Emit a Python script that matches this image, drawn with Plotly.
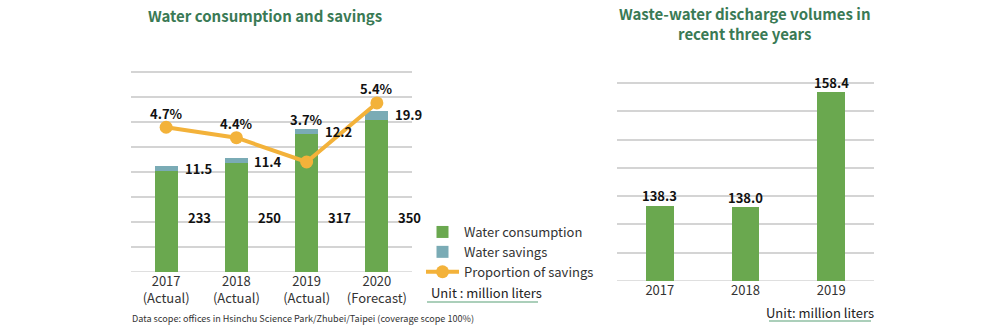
import plotly.graph_objects as go

# ---- data ----
years_left = ["2017<br>(Actual)", "2018<br>(Actual)", "2019<br>(Actual)", "2020<br>(Forecast)"]
consumption = [233, 250, 317, 350]
savings = [11.5, 11.4, 12.2, 19.9]
saving_pct = [4.7, 4.4, 3.7, 5.4]

years_right = ["2017", "2018", "2019"]
discharge = [138.3, 138.0, 158.4]

# ---- styling ----
FONT = "Noto Sans CJK TC, Noto Sans, sans-serif"
GREEN = "#6aa84f"
TEAL = "#7aabb5"
ORANGE = "#f3b23a"
TITLE_GREEN = "#3a7a55"
GRID = "#d4d4d4"
TXT = "#333333"

W, H = 1000, 328


def py(pix):
    """vertical pixel -> paper fraction"""
    return 1 - pix / H


Y1_MAX = 464.6
P_RANGE = [0.53, 6.35]
Y3_RANGE = [125, 160.18]

# right chart uses numeric positions with year tick labels
right_pos = list(range(len(years_right)))

fig = go.Figure()

fig.add_trace(go.Bar(
    x=years_left, y=consumption, name="Water consumption",
    marker=dict(color=GREEN, line=dict(width=0)), width=0.33,
    xaxis="x", yaxis="y", hoverinfo="x+y",
))
fig.add_trace(go.Bar(
    x=years_left, y=savings, name="Water savings",
    marker=dict(color=TEAL, line=dict(width=0)), width=0.33,
    xaxis="x", yaxis="y", hoverinfo="x+y",
))
fig.add_trace(go.Scatter(
    x=years_left, y=saving_pct, name="Proportion of savings",
    mode="lines+markers",
    line=dict(color=ORANGE, width=4),
    marker=dict(color=ORANGE, size=13),
    xaxis="x", yaxis="y2", hoverinfo="x+y",
))
fig.add_trace(go.Bar(
    x=right_pos, y=discharge, name="Waste-water discharge",
    marker=dict(color=GREEN, line=dict(width=0)), width=0.32,
    xaxis="x3", yaxis="y3", showlegend=False, hoverinfo="y",
))

annotations = []
lab_font = dict(family=FONT, size=13, color="#111111")


def note(**kw):
    kw.setdefault("showarrow", False)
    kw.setdefault("xanchor", "center")
    kw.setdefault("yanchor", "middle")
    annotations.append(kw)


for i, yr in enumerate(years_left):
    total = consumption[i] + savings[i]
    bar_frac = total / Y1_MAX
    pt_frac = (saving_pct[i] - P_RANGE[0]) / (P_RANGE[1] - P_RANGE[0])
    # percentage sits above whichever mark is higher
    if bar_frac > pt_frac:
        note(x=yr, y=total, xref="x", yref="y", text=f"<b>{saving_pct[i]}%</b>",
             yshift=9, font=lab_font)
    else:
        note(x=yr, y=saving_pct[i], xref="x", yref="y2", text=f"<b>{saving_pct[i]}%</b>",
             yshift=14, font=lab_font)
    # savings value beside the stack top
    note(x=yr, y=total, xref="x", yref="y", text=f"<b>{savings[i]}</b>",
         xshift=32, yshift=-3, font=lab_font)
    # consumption value on a common row
    note(x=yr, y=py(217), xref="x", yref="paper", text=f"<b>{consumption[i]}</b>",
         xshift=33, font=lab_font)

for i, pos in enumerate(right_pos):
    note(x=pos, y=discharge[i], xref="x3", yref="y3", text=f"<b>{discharge[i]:.1f}</b>",
         yshift=10, font=lab_font)

# titles
note(x=0.265, y=py(15), xref="paper", yref="paper",
     text="<b>Water consumption and savings</b>",
     font=dict(family=FONT, size=15, color=TITLE_GREEN))
note(x=0.745, y=py(24), xref="paper", yref="paper",
     text="<b>Waste-water discharge volumes in<br>recent three years</b>",
     font=dict(family=FONT, size=15, color=TITLE_GREEN))

# unit notes and footnote
note(x=0.4865, y=py(292), xref="paper", yref="paper", text="Unit : million liters",
     font=dict(family=FONT, size=13, color="#222222"))
note(x=0.8195, y=py(312), xref="paper", yref="paper", text="Unit: million liters",
     font=dict(family=FONT, size=13, color="#222222"))
note(x=0.13, y=py(318), xref="paper", yref="paper", xanchor="left",
     text="Data scope: offices in Hsinchu Science Park/Zhubei/Taipei (coverage scope 100%)",
     font=dict(family=FONT, size=9.1, color=TXT))

shapes = [
    dict(type="line", xref="paper", yref="paper", x0=0.427, x1=0.538,
         y0=py(302), y1=py(302), line=dict(color="#8fbfa3", width=1.5)),
    dict(type="line", xref="paper", yref="paper", x0=0.769, x1=0.871,
         y0=py(321), y1=py(321), line=dict(color="#8fbfa3", width=1.5)),
    # baseline rules along the bottom of both plots
    dict(type="line", xref="x domain", yref="y", x0=0, x1=1, y0=0, y1=0,
         line=dict(color=GRID, width=1.5), layer="below"),
    dict(type="line", xref="x3 domain", yref="y3", x0=0, x1=1,
         y0=Y3_RANGE[0], y1=Y3_RANGE[0], line=dict(color=GRID, width=1.5), layer="below"),
]

fig.update_layout(
    width=W, height=H,
    margin=dict(l=0, r=0, t=0, b=0),
    paper_bgcolor="white", plot_bgcolor="white",
    barmode="stack", bargap=0.5,
    font=dict(family=FONT, size=13, color=TXT),
    showlegend=True,
    legend=dict(x=0.421, y=py(217), xanchor="left", yanchor="top",
                bgcolor="rgba(0,0,0,0)", font=dict(family=FONT, size=13, color=TXT),
                traceorder="normal", tracegroupgap=0, itemwidth=33),
    xaxis=dict(domain=[0.131, 0.412], anchor="y", type="category", automargin=False,
               range=[-0.5, len(years_left) - 0.5],
               showgrid=False, showline=False, ticks="",
               tickfont=dict(family=FONT, size=13, color=TXT), fixedrange=True),
    yaxis=dict(domain=[py(272), py(70)], range=[0, Y1_MAX], dtick=57.5, automargin=False,
               showticklabels=False, showgrid=True, gridcolor=GRID, gridwidth=1.5,
               zeroline=False, fixedrange=True),
    yaxis2=dict(overlaying="y", anchor="x", range=P_RANGE, showgrid=False, automargin=False,
                showticklabels=False, zeroline=False, fixedrange=True),
    xaxis3=dict(domain=[0.617, 0.874], anchor="y3", type="linear", automargin=False,
                range=[-0.5, len(years_right) - 0.5],
                tickmode="array", tickvals=right_pos, ticktext=years_right,
                showgrid=False, showline=False, ticks="", zeroline=False,
                tickfont=dict(family=FONT, size=13, color=TXT), fixedrange=True),
    yaxis3=dict(domain=[py(281), py(82)], range=Y3_RANGE, dtick=5, automargin=False,
                showticklabels=False, showgrid=True, gridcolor=GRID, gridwidth=1.5,
                zeroline=False, fixedrange=True),
    annotations=annotations,
    shapes=shapes,
)

fig.write_html("out.html")
